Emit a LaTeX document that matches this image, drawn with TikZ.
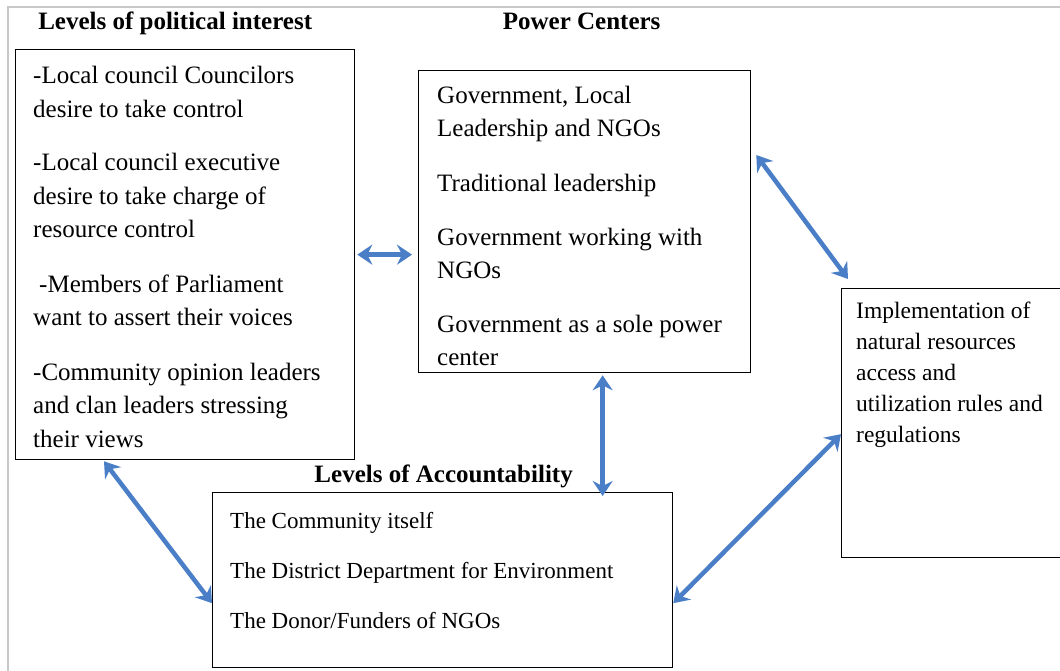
\documentclass[tikz,border=0pt]{standalone}
\usepackage{fontspec}
\setmainfont{Liberation Serif}
\usepackage{tikz}
\usetikzlibrary{arrows.meta}
\definecolor{linkblue}{HTML}{4A7FC8}
\definecolor{framegray}{HTML}{C8C8C8}
\tikzset{
  box/.style={draw=black, line width=1.3pt, rectangle, inner sep=0pt, anchor=north west},
  txt/.style={align=left, inner sep=0pt, anchor=base west},
  head/.style={font=\fontsize{25}{30}\selectfont\bfseries, inner sep=0pt, anchor=base},
  link/.style={draw=linkblue, line width=4.5pt,
    {Stealth[length=15pt,width=20pt,inset=5pt]}-{Stealth[length=15pt,width=20pt,inset=5pt]}},
  frame/.style={draw=framegray, line width=2pt},
}

\begin{document}
\begin{tikzpicture}[x=1pt,y=-1pt]
  \clip (0,0) rectangle (1060,671);
  \fill[white] (0,0) rectangle (1060,671);
  \draw[frame] (8,700) -- (8,7) -- (1100,7);

  % boxes
  \node[box, minimum width=339pt, minimum height=410pt] (interest) at (15,49) {};
  \node[box, minimum width=332pt, minimum height=302pt] (power) at (418,70) {};
  \node[box, minimum width=260pt, minimum height=269pt] (impl) at (841,288) {};
  \node[box, minimum width=460pt, minimum height=175pt] (account) at (212,492) {};

  % headings
  \node[head] (interestHead) at ([xshift=-10pt,yshift=19pt]interest.north) {Levels of political interest};
  \node[head] (powerHead) at ([xshift=-3pt,yshift=40pt]power.north) {Power Centers};
  \node[head] (accountHead) at ([xshift=1pt,yshift=10pt]account.north) {Levels of Accountability};

  % box texts (anchored at the baseline of the last line)
  \node[txt, font=\fontsize{25}{33.5}\selectfont] (interestText) at ([xshift=18pt,yshift=-398pt]interest.north west)
    {-Local council Councilors\\desire to take control\\[20pt]
     -Local council executive\\desire to take charge of\\resource control\\[21pt]
     \hspace{6pt}-Members of Parliament\\want to assert their voices\\[21pt]
     -Community opinion leaders\\and clan leaders stressing\\their views};
  \node[txt, font=\fontsize{25}{33}\selectfont] (powerText) at ([xshift=19pt,yshift=-295pt]power.north west)
    {Government, Local\\Leadership and NGOs\\[22pt]
     Traditional leadership\\[21pt]
     Government working with\\NGOs\\[21pt]
     Government as a sole power\\center};
  \node[txt, font=\fontsize{23.5}{31}\selectfont] (implText) at ([xshift=15pt,yshift=-154pt]impl.north west)
    {Implementation of\\natural resources\\access and\\utilization rules and\\regulations};
  \node[txt, font=\fontsize{23}{50}\selectfont] (accountText) at ([xshift=18pt,yshift=-136pt]account.north west)
    {The Community itself\\The District Department for Environment\\The Donor/Funders of NGOs};

  % connectors
  \draw[link] ([xshift=2pt]interest.east) -- ([xshift=-6pt]interest.east -| power.west);
  \draw[link] ([xshift=5pt,yshift=-85pt]power.north east) -- ([xshift=7pt,yshift=9pt]impl.north west);
  \draw[link] ([xshift=18pt,yshift=-2pt]power.south) -- ([xshift=18pt,yshift=-4pt]power.south |- account.north);
  \draw[link] ([xshift=89pt,yshift=-1pt]interest.south west) -- ([yshift=-23pt]account.west);
  \draw[link] ([yshift=-23pt]account.east) -- ([yshift=-11pt]impl.west);
\end{tikzpicture}
\end{document}
